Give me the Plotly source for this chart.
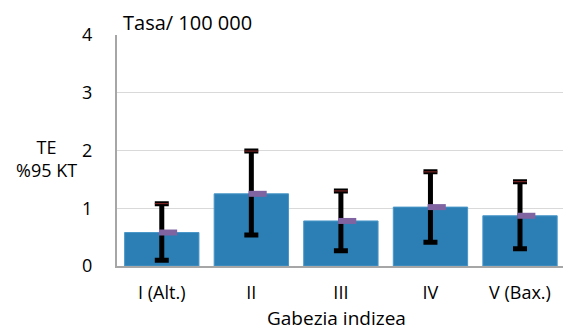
import plotly.graph_objects as go

categories = ["I (Alt.)", "II", "III", "IV", "V (Bax.)"]
rates = [0.58, 1.25, 0.78, 1.02, 0.87]
ci_upper = [1.08, 1.99, 1.30, 1.63, 1.46]
ci_lower = [0.10, 0.535, 0.265, 0.41, 0.30]
y_ticks = [0, 1, 2, 3, 4]

xs = list(range(len(categories)))
err_plus = [u - r for u, r in zip(ci_upper, rates)]
err_minus = [r - l for r, l in zip(rates, ci_lower)]

FONT = "Open Sans"
fig = go.Figure()
fig.add_trace(go.Bar(
    x=xs, y=rates, width=0.83,
    marker=dict(color="#2C7FB4", line=dict(color="#4A97C9", width=1)),
    error_y=dict(type="data", symmetric=False, array=err_plus, arrayminus=err_minus,
                 color="black", thickness=5, width=7),
    showlegend=False, hoverinfo="skip"))
fig.add_trace(go.Scatter(
    x=xs, y=ci_upper, mode="markers",
    marker=dict(symbol="line-ew", size=10, line=dict(color="#8B2A2A", width=1)),
    showlegend=False, hoverinfo="skip"))
fig.add_trace(go.Scatter(
    x=[x + 0.07 for x in xs], y=rates, mode="markers",
    marker=dict(symbol="line-ew", size=13, line=dict(color="#8064A2", width=6)),
    showlegend=False, hoverinfo="skip"))

fig.update_layout(
    width=563, height=331,
    margin=dict(l=117, r=0, t=35, b=65, autoexpand=False),
    plot_bgcolor="white", paper_bgcolor="white",
    font=dict(family=FONT, size=18, color="black"),
    xaxis=dict(range=[-0.5, 4.48], tickvals=xs, ticktext=categories,
               showgrid=False, showline=True, linecolor="#A6A6A6", linewidth=2,
               ticks="outside", ticklen=9, tickcolor="rgba(0,0,0,0)",
               tickfont=dict(size=18), zeroline=False, automargin=False),
    yaxis=dict(range=[0, 4], tickvals=y_ticks, showgrid=True, gridcolor="#D9D9D9",
               gridwidth=1, showline=True, linecolor="#A6A6A6", linewidth=2,
               ticks="outside", ticklen=19, tickcolor="rgba(0,0,0,0)",
               tickfont=dict(size=18), zeroline=False, automargin=False),
    annotations=[
        dict(text="Tasa/ 100 000", xref="paper", yref="paper", x=0.0, y=1.0,
             xanchor="left", yanchor="middle", xshift=4, yshift=13, showarrow=False,
             font=dict(size=20)),
        dict(text="Gabezia indizea", xref="paper", yref="paper", x=0.5, y=0,
             xanchor="center", yanchor="middle", yshift=-52, xshift=-4,
             showarrow=False, font=dict(size=19)),
        dict(text="TE<br>%95 KT", xref="paper", yref="paper", x=0, y=0.5,
             xanchor="center", yanchor="middle", xshift=-71, yshift=-8,
             align="center", showarrow=False, font=dict(size=18)),
    ],
)
fig.write_html("out.html", config={"displayModeBar": False},
               post_script="document.body.style.margin='0';document.body.style.overflow='hidden';")
